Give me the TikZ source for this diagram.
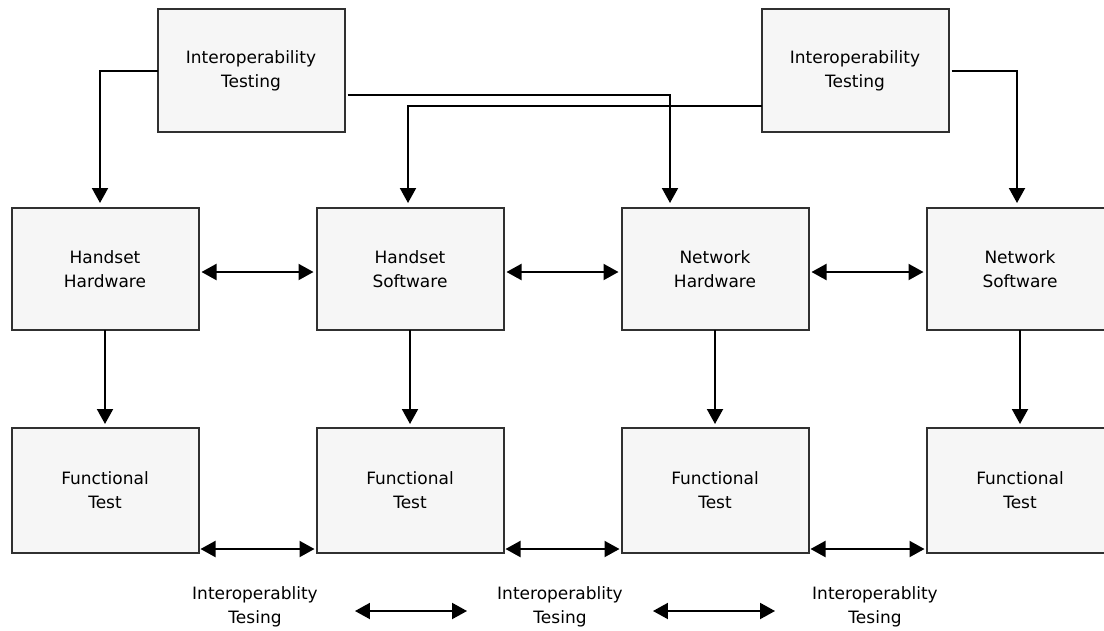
\documentclass[tikz,border=0pt]{standalone}
\usepackage{fontspec}
\setmainfont{DejaVu Sans}
\usepackage{tikz}
\usetikzlibrary{positioning, arrows.meta}
\definecolor{boxfill}{HTML}{F6F6F6}
\definecolor{boxline}{HTML}{303030}
\tikzstyle{block} = [rectangle, minimum width=187pt, minimum height=122pt, outer sep=0pt, text centered, align=center, draw=boxline, fill=boxfill, line width=2pt]
\tikzstyle{itlabel} = [inner sep=0pt, align=center]
\tikzstyle{arr} = [-{Triangle[width=16pt,length=15pt]}, line width=2pt]
\tikzstyle{dblarr} = [{Triangle[width=16pt,length=15pt]}-{Triangle[width=16pt,length=15pt]}, line width=2pt]

\begin{document}
\begin{tikzpicture}[x=1pt, y=1pt, node distance=118pt, font=\fontsize{17pt}{24pt}\selectfont]
		\useasboundingbox (0,0) rectangle (1104,-630);
		% middle row
		\node (HH)[block] at (105,-269) {Handset\\Hardware};
		\node (HS)[block, right = of HH] {Handset\\Software};
		\node (NH)[block, right = of HS] {Network\\Hardware};
		\node (NS)[block, right = of NH] {Network\\Software};
		% bottom row
		\node (FT1)[block, minimum height=125pt, below = 98pt of HH] {Functional\\Test};
		\node (FT2)[block, minimum height=125pt, below = 98pt of HS] {Functional\\Test};
		\node (FT3)[block, minimum height=125pt, below = 98pt of NH] {Functional\\Test};
		\node (FT4)[block, minimum height=125pt, below = 98pt of NS] {Functional\\Test};
		% top row
		\node (IT1)[block, minimum height=123pt] at (251,-70.5) {Interoperability\\Testing};
		\node (IT2)[block, minimum height=123pt] at (855,-70.5) {Interoperability\\Testing};
		% labels
		\node (IOT1)[itlabel] at (255,-607) {Interoperablity\\Tesing};
		\node (IOT2)[itlabel] at (560,-607) {Interoperablity\\Tesing};
		\node (IOT3)[itlabel] at (875,-607) {Interoperablity\\Tesing};

		\draw [arr, shorten >=5pt] (IT1.west) -| ([xshift=-5pt]HH.north);
		\draw [arr, shorten >=5pt, shorten <=3pt] ([yshift=-24pt]IT1.east) -| ([xshift=-45pt]NH.north);
		\draw [arr, shorten >=5pt] ([yshift=-35.5pt]IT2.west) -| ([xshift=-2pt]HS.north);
		\draw [arr, shorten >=5pt, shorten <=3pt] (IT2.east) -| ([xshift=-3pt]NS.north);

		\draw [arr, shorten >=4pt] (HH) -- (FT1);
		\draw [arr, shorten >=4pt] (HS) -- (FT2);
		\draw [arr, shorten >=4pt] (NH) -- (FT3);
		\draw [arr, shorten >=4pt] (NS) -- (FT4);

		\draw [dblarr, shorten <=3pt, shorten >=3pt] ([yshift=-3pt]HH.east) -- ([yshift=-3pt]HS.west);
		\draw [dblarr, shorten <=3pt, shorten >=3pt] ([yshift=-3pt]HS.east) -- ([yshift=-3pt]NH.west);
		\draw [dblarr, shorten <=3pt, shorten >=3pt] ([yshift=-3pt]NH.east) -- ([yshift=-3pt]NS.west);

		\draw [dblarr, shorten <=2pt, shorten >=2pt] ([yshift=4pt]FT1.south east) -- ([yshift=4pt]FT2.south west);
		\draw [dblarr, shorten <=2pt, shorten >=2pt] ([yshift=4pt]FT2.south east) -- ([yshift=4pt]FT3.south west);
		\draw [dblarr, shorten <=2pt, shorten >=2pt] ([yshift=4pt]FT3.south east) -- ([yshift=4pt]FT4.south west);

		\draw [dblarr, shorten <=37pt, shorten >=30pt] ([yshift=-4pt]IOT1.east) -- ([yshift=-4pt]IOT2.west);
		\draw [dblarr, shorten <=30pt, shorten >=37pt] ([yshift=-4pt]IOT2.east) -- ([yshift=-4pt]IOT3.west);
	\end{tikzpicture}
\end{document}
